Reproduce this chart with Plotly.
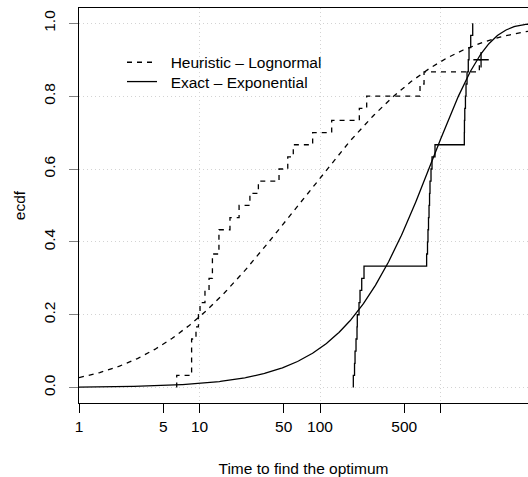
import math
import numpy as np
import plotly.graph_objects as go

# ---- data ----
n_runs = 30
heur_times = [6.47, 8.6, 8.6, 8.6, 9.35, 9.8, 10.1, 11.1, 12.0, 12.8, 12.8,
              14.5, 14.5, 17.9, 21.3, 26.2, 30.8, 45.7, 54, 60, 86.9, 125,
              212, 244, 676, 730, 2100]
heur_censor = 2170
exact_times = [189.0, 193.4, 195.3, 199.0, 202.8, 203.9, 210.7, 214.8, 221.9, 231.8,
               767, 780, 787, 795, 803, 811, 818, 834, 850, 900,
               1576, 1580, 1590, 1610, 1628, 1660, 1700, 1724, 1781, 1850]
logn_mu = 4.18
logn_sigma = 2.178
exp_mean = 875.0
x_tickvals = [1, 5, 10, 50, 100, 500, 1000]
x_ticktext = ["1", "5", "10", "50", "100", "500", ""]
x_gridvals = [1, 10, 100, 1000]
y_tickvals = [0, 0.2, 0.4, 0.6, 0.8, 1.0]
y_ticktext = ["0.0", "0.2", "0.4", "0.6", "0.8", "1.0"]
legend_names = ["Heuristic \u2013 Lognormal", "Exact \u2013 Exponential"]

FONT = "Liberation Sans, Arial, Helvetica, sans-serif"
FS = 15.5
DASH = "5px,5px"
LW = 1.3
GRID = "#d3d3d3"
PAD = "\u00a0\u00a0"

# step data
hx = [heur_times[0]] + heur_times + [heur_censor]
hlev = [i / n_runs for i in range(1, len(heur_times) + 1)]
hy = [0] + hlev + [hlev[-1]]
ex = [exact_times[0]] + exact_times
ey = [0] + [i / n_runs for i in range(1, len(exact_times) + 1)]

xc = np.logspace(0, 3.9, 500)
logn_cdf = [0.5 * (1 + math.erf((math.log(v) - logn_mu) / (logn_sigma * math.sqrt(2)))) for v in xc]
exp_cdf = 1 - np.exp(-xc / exp_mean)

fig = go.Figure()
fig.add_trace(go.Scatter(x=[], y=[], xaxis="x2", yaxis="y", showlegend=False, hoverinfo="skip"))
fig.add_trace(go.Scatter(x=hx, y=hy, mode="lines", line=dict(shape="hv", color="black", width=LW, dash=DASH),
                         showlegend=False))
fig.add_trace(go.Scatter(x=xc, y=logn_cdf, mode="lines", line=dict(color="black", width=LW, dash=DASH),
                         name=PAD + legend_names[0], legend="legend"))
fig.add_trace(go.Scatter(x=ex, y=ey, mode="lines", line=dict(shape="hv", color="black", width=LW),
                         showlegend=False))
fig.add_trace(go.Scatter(x=xc, y=exp_cdf, mode="lines", line=dict(color="black", width=LW),
                         name=PAD + legend_names[1], legend="legend2"))
fig.add_trace(go.Scatter(x=[heur_censor], y=[hlev[-1]], mode="markers",
                         marker=dict(symbol="cross-thin", size=11, line=dict(color="black", width=LW)),
                         showlegend=False))

x_range = [0, 3.726]
leg_common = dict(x=0.0958, xanchor="left", yanchor="top", bgcolor="rgba(0,0,0,0)",
                  font=dict(size=FS), tracegroupgap=0)
fig.update_layout(
    width=528, height=477,
    margin=dict(l=79, r=0, t=8, b=74, autoexpand=False),
    plot_bgcolor="white", paper_bgcolor="white",
    font=dict(family=FONT, size=FS, color="black"),
    showlegend=True,
    legend=dict(y=0.9046, **leg_common),
    legend2=dict(y=0.8557, **leg_common),
    xaxis=dict(type="log", range=x_range, tickmode="array", tickvals=x_tickvals, ticktext=x_ticktext,
               showgrid=False, zeroline=False, showline=True, linecolor="black", linewidth=LW,
               mirror=True, ticks="outside", ticklen=9, tickwidth=LW, tickcolor="black",
               ticklabelstandoff=0, automargin=False,
               title=dict(text="Time to find the optimum", standoff=30, font=dict(size=FS))),
    xaxis2=dict(type="log", range=x_range, overlaying="x", tickmode="array", tickvals=x_gridvals,
                showticklabels=False, ticks="", showline=False, zeroline=False, automargin=False,
                showgrid=True, gridcolor=GRID, griddash="1px,3px", gridwidth=1),
    yaxis=dict(range=[-0.0423, 1.042], tickmode="array", tickvals=y_tickvals, ticktext=y_ticktext,
               tickangle=-90, showgrid=True, gridcolor=GRID, griddash="1px,3px", gridwidth=1,
               zeroline=False, showline=True, linecolor="black", linewidth=LW, mirror=False,
               ticks="outside", ticklen=9, tickwidth=LW, tickcolor="#808080",
               ticklabelstandoff=8, automargin=False,
               title=dict(text="ecdf", standoff=11, font=dict(size=FS))),
)
fig.write_html("out.html", config={"displayModeBar": False},
               post_script="document.body.style.margin='0';")
